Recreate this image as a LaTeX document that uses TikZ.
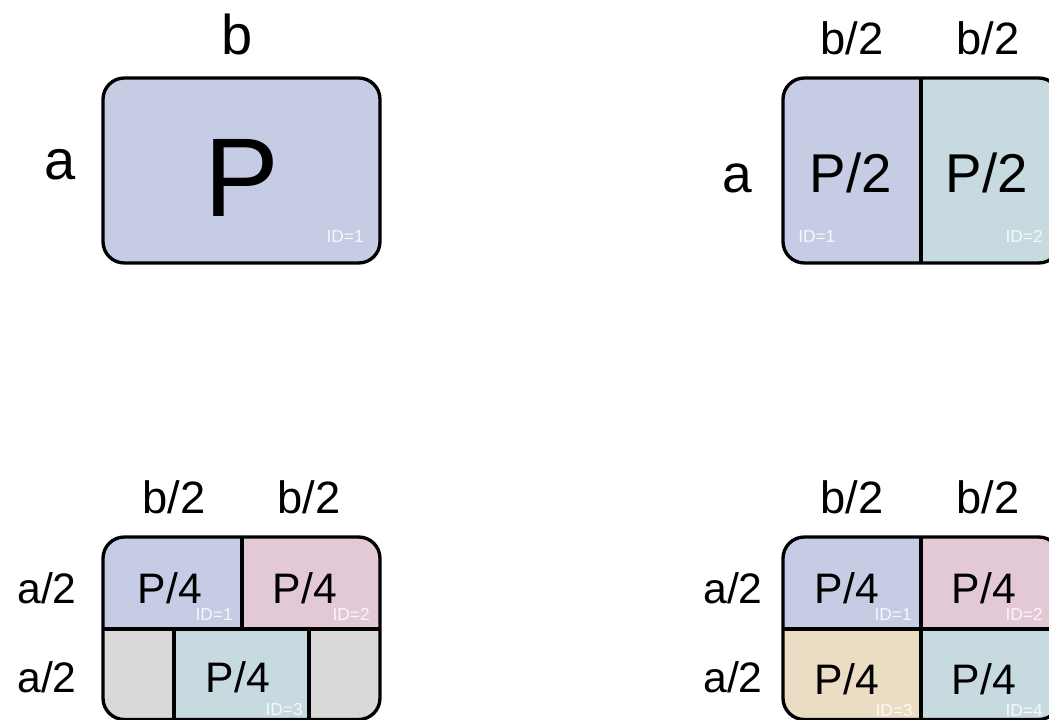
\documentclass[tikz,border=0pt]{standalone}
\usepackage{fontspec}
\setmainfont{Liberation Sans}
\definecolor{cblue}{HTML}{C5CCE4}
\definecolor{cteal}{HTML}{C6DAE0}
\definecolor{cpink}{HTML}{E3C9D6}
\definecolor{ctan}{HTML}{EBDCC4}
\definecolor{cgray}{HTML}{D9D9D9}
\newcommand{\fsz}[1]{\fontsize{#1pt}{#1pt}\selectfont}
\begin{document}
\begin{tikzpicture}[x=0.75pt,y=-0.75pt,
  box/.style={line width=2.5pt, rounded corners=16pt},
  div/.style={line width=2.5pt},
  lbl/.style={anchor=base, inner sep=0pt, text=black},
  idl/.style={anchor=base east, inner sep=0pt, text=white, text opacity=0.85, font=\fsz{13}}]
\useasboundingbox (0,0) rectangle (1049,720);
\clip (0,0) rectangle (1049,720);
\fill[white] (0,0) rectangle (1049,720);

% ---------- box 1 ----------
\filldraw[box, fill=cblue] (103,78) rectangle (380,263);
\node[lbl, font=\fsz{84}] (p1) at (242,217) {P};
\node[idl] (id11) at (364,243) {ID=1};
\node[lbl, font=\fsz{42}] (b1) at (237,55) {b};
\node[lbl, font=\fsz{42}] (a1) at (60,180) {a};

% ---------- box 2 ----------
\begin{scope}
\clip[rounded corners=16pt] (783,78) rectangle (1060,263);
\fill[cblue] (783,78) rectangle (921,263);
\fill[cteal] (921,78) rectangle (1060,263);
\end{scope}
\draw[box] (783,78) rectangle (1060,263);
\draw[div] (921,78) -- (921,263);
\node[lbl, font=\fsz{41}] (p21) at (851,193) {P/2};
\node[lbl, font=\fsz{41}] (p22) at (987,193) {P/2};
\node[idl, anchor=base west] (id21) at (798,243) {ID=1};
\node[idl] (id22) at (1043,243) {ID=2};
\node[lbl, font=\fsz{34}] (b21) at (852,55) {b/2};
\node[lbl, font=\fsz{34}] (b22) at (988,55) {b/2};
\node[lbl, font=\fsz{40}] (a2) at (737,193) {a};

% ---------- box 3 ----------
\begin{scope}
\clip[rounded corners=16pt] (103,537) rectangle (380,719.5);
\fill[cblue] (103,537) rectangle (242,629);
\fill[cpink] (242,537) rectangle (380,629);
\fill[cgray] (103,629) rectangle (174,720);
\fill[cteal] (174,629) rectangle (309,720);
\fill[cgray] (309,629) rectangle (380,720);
\end{scope}
\draw[box] (103,537) rectangle (380,719.5);
\draw[div] (103,629) -- (380,629);
\draw[div] (242,537) -- (242,629);
\draw[div] (174,629) -- (174,720);
\draw[div] (309,629) -- (309,720);
\node[lbl, font=\fsz{32}] (p31) at (170,603) {P/4};
\node[lbl, font=\fsz{32}] (p32) at (305,603) {P/4};
\node[lbl, font=\fsz{32}] (p33) at (238,692) {P/4};
\node[idl] (id31) at (233,620) {ID=1};
\node[idl] (id32) at (370,620) {ID=2};
\node[idl] (id33) at (303,715) {ID=3};
\node[lbl, font=\fsz{34}] (b31) at (174,513) {b/2};
\node[lbl, font=\fsz{34}] (b32) at (309,513) {b/2};
\node[lbl, font=\fsz{32}] (a31) at (47,603) {a/2};
\node[lbl, font=\fsz{32}] (a32) at (47,692) {a/2};

% ---------- box 4 ----------
\begin{scope}
\clip[rounded corners=16pt] (783,537) rectangle (1060,719.5);
\fill[cblue] (783,537) rectangle (921,629);
\fill[cpink] (921,537) rectangle (1060,629);
\fill[ctan] (783,629) rectangle (921,720);
\fill[cteal] (921,629) rectangle (1060,720);
\end{scope}
\draw[box] (783,537) rectangle (1060,719.5);
\draw[div] (783,629) -- (1060,629);
\draw[div] (921,537) -- (921,720);
\node[lbl, font=\fsz{32}] (p41) at (847,603) {P/4};
\node[lbl, font=\fsz{32}] (p42) at (984,603) {P/4};
\node[lbl, font=\fsz{32}] (p43) at (847,694) {P/4};
\node[lbl, font=\fsz{32}] (p44) at (984,694) {P/4};
\node[idl] (id41) at (912,620) {ID=1};
\node[idl] (id42) at (1043,620) {ID=2};
\node[idl] (id43) at (913,716) {ID=3};
\node[idl] (id44) at (1043,716) {ID=4};
\node[lbl, font=\fsz{34}] (b41) at (852,513) {b/2};
\node[lbl, font=\fsz{34}] (b42) at (988,513) {b/2};
\node[lbl, font=\fsz{32}] (a41) at (733,603) {a/2};
\node[lbl, font=\fsz{32}] (a42) at (733,692) {a/2};
\end{tikzpicture}
\end{document}
